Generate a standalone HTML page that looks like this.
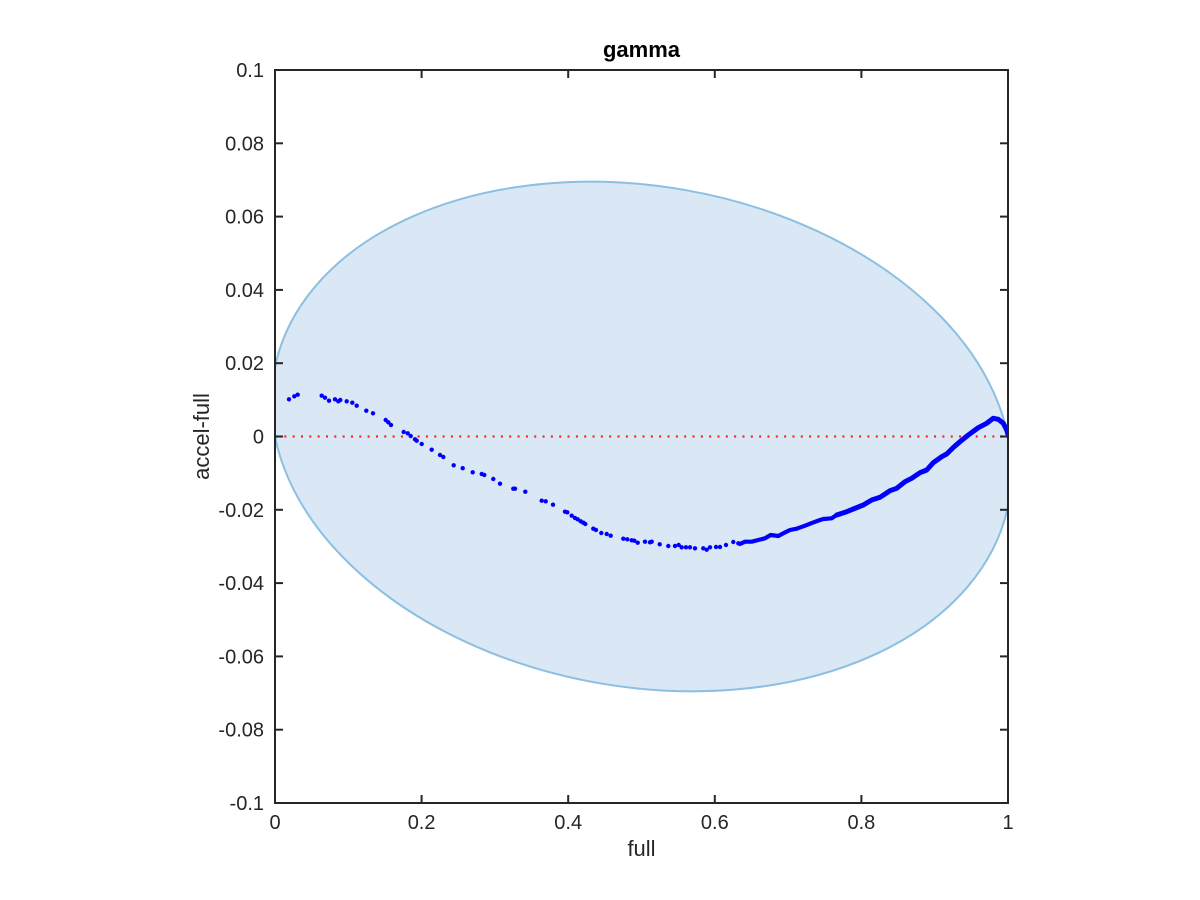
<!DOCTYPE html>
<html><head><meta charset="utf-8"><style>
html,body{margin:0;padding:0;background:#fff;}
svg{display:block;}
text{font-family:"Liberation Sans",Arial,sans-serif;fill:#262626;}
</style></head><body>
<svg width="1200" height="900" viewBox="0 0 1200 900" xmlns="http://www.w3.org/2000/svg">
<defs><clipPath id="ax"><rect x="275" y="70" width="733" height="733"/></clipPath></defs>
<rect x="0" y="0" width="1200" height="900" fill="#fff"/>
<g clip-path="url(#ax)">
<ellipse cx="641.5" cy="436.5" rx="373.1" ry="250.3" transform="rotate(9.93 641.5 436.5)" fill="#d9e8f4" stroke="#8cbfe2" stroke-width="2"/>
<line x1="276" y1="436.5" x2="1008" y2="436.5" stroke="#ff2020" stroke-width="2.2" stroke-dasharray="2 6.33"/>
<g fill="#0000ff">
<circle cx="289" cy="399.3" r="2.2"/><circle cx="294.3" cy="396.3" r="2.2"/><circle cx="297.7" cy="394.7" r="2.2"/>
<circle cx="321.7" cy="395.7" r="2.2"/><circle cx="325" cy="397.7" r="2.2"/><circle cx="329" cy="400.7" r="2.2"/>
<circle cx="335" cy="399.3" r="2.2"/><circle cx="338.3" cy="401.3" r="2.2"/><circle cx="340.3" cy="400" r="2.2"/>
<circle cx="346.7" cy="401.3" r="2.2"/><circle cx="352.3" cy="402.7" r="2.2"/><circle cx="356.7" cy="405.7" r="2.2"/>
<circle cx="366.3" cy="410.7" r="2.2"/><circle cx="373" cy="413.3" r="2.2"/><circle cx="385.7" cy="420" r="2.2"/>
<circle cx="388.3" cy="422.3" r="2.2"/><circle cx="391" cy="425" r="2.2"/><circle cx="403.7" cy="432" r="2.2"/>
<circle cx="407.7" cy="433.3" r="2.2"/><circle cx="410.7" cy="436" r="2.2"/><circle cx="415" cy="439.3" r="2.2"/>
<circle cx="416.7" cy="440.7" r="2.2"/><circle cx="421.7" cy="444" r="2.2"/><circle cx="431.7" cy="449.7" r="2.2"/>
<circle cx="440" cy="455" r="2.2"/><circle cx="443.3" cy="457" r="2.2"/><circle cx="453.7" cy="465.3" r="2.2"/>
<circle cx="462.7" cy="468.2" r="2.2"/><circle cx="472.7" cy="472.3" r="2.2"/><circle cx="481.7" cy="474" r="2.2"/>
<circle cx="484.3" cy="475" r="2.2"/><circle cx="493.3" cy="479" r="2.2"/><circle cx="500" cy="483.7" r="2.2"/>
<circle cx="513.3" cy="488.7" r="2.2"/><circle cx="515" cy="488.7" r="2.2"/><circle cx="525.3" cy="491.7" r="2.2"/>
<circle cx="541.7" cy="500.7" r="2.2"/><circle cx="545.7" cy="501.3" r="2.2"/><circle cx="553" cy="504.7" r="2.2"/>
<circle cx="565" cy="511.7" r="2.2"/><circle cx="567.3" cy="512.3" r="2.2"/><circle cx="571.7" cy="515.7" r="2.2"/>
<circle cx="575" cy="518" r="2.2"/><circle cx="577.7" cy="519.3" r="2.2"/><circle cx="580.7" cy="521.3" r="2.2"/>
<circle cx="583.3" cy="522.7" r="2.2"/><circle cx="585.3" cy="524" r="2.2"/><circle cx="593.3" cy="528.7" r="2.2"/>
<circle cx="596" cy="530" r="2.2"/><circle cx="601.3" cy="533" r="2.2"/><circle cx="606.7" cy="534" r="2.2"/>
<circle cx="610.7" cy="535.7" r="2.2"/><circle cx="623.3" cy="538.7" r="2.2"/><circle cx="627.3" cy="539.3" r="2.2"/>
<circle cx="631.7" cy="540.3" r="2.2"/><circle cx="634.3" cy="540.7" r="2.2"/><circle cx="637.7" cy="542.7" r="2.2"/>
<circle cx="645" cy="541.7" r="2.2"/><circle cx="650" cy="542.3" r="2.2"/><circle cx="651.7" cy="541.7" r="2.2"/>
<circle cx="659.7" cy="544.3" r="2.2"/><circle cx="668.3" cy="546" r="2.2"/><circle cx="675" cy="546" r="2.2"/>
<circle cx="678.7" cy="545" r="2.2"/><circle cx="681.7" cy="547.3" r="2.2"/><circle cx="686" cy="547.3" r="2.2"/>
<circle cx="690" cy="547.3" r="2.2"/><circle cx="695" cy="548.3" r="2.2"/><circle cx="703.3" cy="548.3" r="2.2"/>
<circle cx="706.7" cy="549.7" r="2.2"/><circle cx="710" cy="547.3" r="2.2"/><circle cx="716" cy="547" r="2.2"/>
<circle cx="720" cy="547" r="2.2"/><circle cx="726" cy="545" r="2.2"/><circle cx="733.3" cy="542" r="2.2"/>
<circle cx="738.3" cy="543.3" r="2.2"/>
</g>
<polyline fill="none" stroke="#0000ff" stroke-width="4.2" stroke-linecap="round" stroke-linejoin="round" points="740,544 745,541.7 751.7,541.7 758.3,540 765,538.3 770.7,535 778.3,536 783.3,533.3 790,530 796.7,528.7 805,525.7 812.7,522.7 820,520 823.3,519 831.7,518.3 836.7,515"/>
<polyline fill="none" stroke="#0000ff" stroke-width="5" stroke-linecap="round" stroke-linejoin="round" points="836.7,515 846.7,511.7 853.3,509 863.3,505 871.7,500 880,497.3 890,490.7 896.7,488.3 905,481.7 911.7,478.3 920,472.7 926.7,470 933.3,462.7 941.7,456.7 946.7,454 953.3,447.5 960,441.7 968.3,435 978.3,427.7 986.7,423.3 993.3,418.3 998.3,419.3 1003.3,423.3 1006.7,430 1008.5,436"/>
</g>
<!-- axes box -->
<rect x="275" y="70" width="733" height="733" fill="none" stroke="#262626" stroke-width="2"/>
<!-- ticks -->
<g stroke="#262626" stroke-width="2">
<line x1="275" y1="70" x2="283" y2="70"/><line x1="1008" y1="70" x2="1000" y2="70"/>
<line x1="275" y1="143.3" x2="283" y2="143.3"/><line x1="1008" y1="143.3" x2="1000" y2="143.3"/>
<line x1="275" y1="216.6" x2="283" y2="216.6"/><line x1="1008" y1="216.6" x2="1000" y2="216.6"/>
<line x1="275" y1="289.9" x2="283" y2="289.9"/><line x1="1008" y1="289.9" x2="1000" y2="289.9"/>
<line x1="275" y1="363.2" x2="283" y2="363.2"/><line x1="1008" y1="363.2" x2="1000" y2="363.2"/>
<line x1="275" y1="436.5" x2="283" y2="436.5"/><line x1="1008" y1="436.5" x2="1000" y2="436.5"/>
<line x1="275" y1="509.8" x2="283" y2="509.8"/><line x1="1008" y1="509.8" x2="1000" y2="509.8"/>
<line x1="275" y1="583.1" x2="283" y2="583.1"/><line x1="1008" y1="583.1" x2="1000" y2="583.1"/>
<line x1="275" y1="656.4" x2="283" y2="656.4"/><line x1="1008" y1="656.4" x2="1000" y2="656.4"/>
<line x1="275" y1="729.7" x2="283" y2="729.7"/><line x1="1008" y1="729.7" x2="1000" y2="729.7"/>
<line x1="421.6" y1="803" x2="421.6" y2="795"/><line x1="421.6" y1="70" x2="421.6" y2="78"/>
<line x1="568.2" y1="803" x2="568.2" y2="795"/><line x1="568.2" y1="70" x2="568.2" y2="78"/>
<line x1="714.8" y1="803" x2="714.8" y2="795"/><line x1="714.8" y1="70" x2="714.8" y2="78"/>
<line x1="861.4" y1="803" x2="861.4" y2="795"/><line x1="861.4" y1="70" x2="861.4" y2="78"/>
</g>
<!-- y tick labels -->
<g font-size="20" text-anchor="end">
<text x="264" y="77">0.1</text>
<text x="264" y="150.3">0.08</text>
<text x="264" y="223.6">0.06</text>
<text x="264" y="296.9">0.04</text>
<text x="264" y="370.2">0.02</text>
<text x="264" y="443.5">0</text>
<text x="264" y="516.8">-0.02</text>
<text x="264" y="590.1">-0.04</text>
<text x="264" y="663.4">-0.06</text>
<text x="264" y="736.7">-0.08</text>
<text x="264" y="810">-0.1</text>
</g>
<!-- x tick labels -->
<g font-size="20" text-anchor="middle">
<text x="275" y="829">0</text>
<text x="421.6" y="829">0.2</text>
<text x="568.2" y="829">0.4</text>
<text x="714.8" y="829">0.6</text>
<text x="861.4" y="829">0.8</text>
<text x="1008" y="829">1</text>
</g>
<text x="641.5" y="856" font-size="22" text-anchor="middle">full</text>
<text transform="translate(209 436.5) rotate(-90)" font-size="22" text-anchor="middle">accel-full</text>
<text x="641.5" y="57" font-size="22" font-weight="bold" text-anchor="middle" style="fill:#000">gamma</text>
</svg>
</body></html>
